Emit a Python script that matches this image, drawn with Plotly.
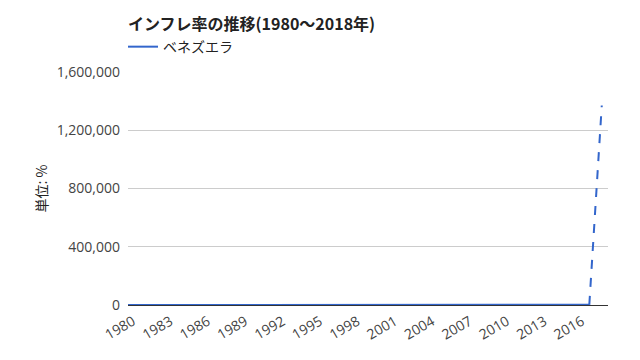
import plotly.graph_objects as go

years = list(range(1980, 2019))
inflation = [21.5, 16.2, 9.6, 6.2, 12.2, 11.4, 11.5, 28.1, 29.5, 84.5,
             40.7, 34.2, 31.4, 38.1, 60.8, 59.9, 99.9, 50.0, 35.8, 23.6,
             16.2, 12.5, 22.4, 31.1, 21.7, 16.0, 13.7, 18.7, 31.4, 26.0,
             28.2, 26.1, 21.1, 43.5, 57.3, 111.8, 254.9, 1087.5, 1370000]
series_name = "ベネズエラ"
title_text = "インフレ率の推移(1980～2018年)"
y_title = "単位: %"
x_ticks = list(range(1980, 2017, 3))
y_ticks = [0, 400000, 800000, 1200000, 1600000]

color = "#3366CC"
font = "Noto Sans CJK JP"
tick_font = "Open Sans"

fig = go.Figure()
fig.add_trace(go.Scatter(
    x=years[:-1], y=inflation[:-1], mode="lines", name=series_name,
    line=dict(color=color, width=2), showlegend=True))
fig.add_trace(go.Scatter(
    x=years[-2:], y=inflation[-2:], mode="lines", name=series_name,
    line=dict(color=color, width=2, dash="dash"), showlegend=False))

fig.update_layout(
    width=640, height=360,
    paper_bgcolor="white", plot_bgcolor="white",
    margin=dict(l=120, r=40, t=64, b=63, autoexpand=False),
    font=dict(family=font, size=12, color="#444444"),
    title=dict(text="<b>" + title_text + "</b>", x=120/640, xanchor="left",
               y=1 - 16/360, yanchor="middle",
               font=dict(family=font, size=16, color="#222222")),
    legend=dict(orientation="h", x=-0.0104, xanchor="left", y=1.107, yanchor="middle",
                font=dict(family=font, size=14, color="#222222"),
                bgcolor="rgba(0,0,0,0)"),
    xaxis=dict(range=[1980, 2018.5], tickvals=x_ticks, ticktext=[str(t) for t in x_ticks],
               tickangle=-30, showgrid=False, zeroline=False, showline=False,
               automargin=False, ticklabelstandoff=5, ticklabelshift=5,
               ticks="", tickfont=dict(family=tick_font, size=14, color="#444444")),
    yaxis=dict(range=[0, 1600000], tickvals=y_ticks,
               ticktext=[f"{v:,}" for v in y_ticks],
               showgrid=True, gridcolor="#CCCCCC", gridwidth=1,
               zeroline=True, zerolinecolor="#333333", zerolinewidth=1,
               automargin=False,
               ticks="", ticklabelstandoff=7,
               tickfont=dict(family=tick_font, size=14, color="#444444"),
               title=dict(text=y_title, standoff=5,
                          font=dict(size=14, color="#222222"))),
)

fig.write_html("out.html")
